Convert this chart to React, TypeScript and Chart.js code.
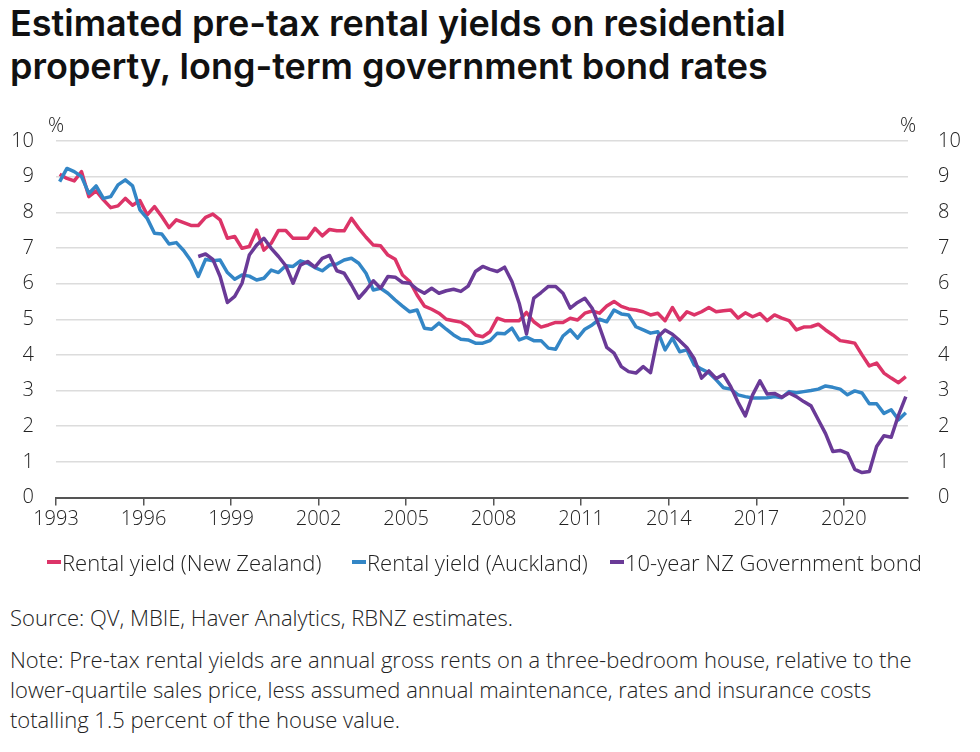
import React, { useEffect, useRef } from "react";
import { Chart, registerables } from "chart.js";

Chart.register(...registerables);

// Quarterly data, first quarter = 1993 Q1, last = 2022 Q1
const START_YEAR = 1993;

const nzRentalYield = [
  9.07, 8.95, 8.88, 9.14, 8.44, 8.6, 8.35, 8.13, 8.18, 8.39,
  8.2, 8.33, 7.93, 8.16, 7.88, 7.57, 7.79, 7.71, 7.63, 7.63,
  7.86, 7.95, 7.79, 7.27, 7.32, 6.99, 7.04, 7.5, 6.94, 7.13,
  7.49, 7.49, 7.27, 7.27, 7.27, 7.55, 7.34, 7.52, 7.48, 7.48,
  7.83, 7.55, 7.3, 7.08, 7.06, 6.8, 6.68, 6.24, 6.06, 5.68,
  5.37, 5.28, 5.17, 5.0, 4.96, 4.92, 4.79, 4.56, 4.51, 4.65,
  5.03, 4.96, 4.96, 4.96, 5.19, 4.93, 4.78, 4.84, 4.91, 4.91,
  5.03, 4.98, 5.17, 5.23, 5.17, 5.37, 5.5, 5.36, 5.29, 5.26,
  5.21, 5.12, 5.17, 4.96, 5.33, 4.98, 5.21, 5.12, 5.21, 5.33,
  5.21, 5.24, 5.26, 5.03, 5.18, 5.07, 5.16, 4.96, 5.12, 5.03,
  4.96, 4.7, 4.78, 4.79, 4.86, 4.7, 4.56, 4.4, 4.37, 4.33,
  4.0, 3.69, 3.77, 3.49, 3.35, 3.22, 3.39,
];

const aucklandRentalYield = [
  8.86, 9.23, 9.14, 9.0, 8.53, 8.74, 8.39, 8.44, 8.77, 8.91,
  8.74, 8.07, 7.83, 7.41, 7.39, 7.11, 7.15, 6.93, 6.64, 6.2,
  6.68, 6.64, 6.66, 6.31, 6.12, 6.24, 6.21, 6.1, 6.15, 6.38,
  6.31, 6.5, 6.48, 6.64, 6.57, 6.45, 6.36, 6.52, 6.55, 6.66,
  6.71, 6.57, 6.29, 5.82, 5.87, 5.73, 5.54, 5.37, 5.21, 5.26,
  4.75, 4.72, 4.89, 4.72, 4.56, 4.44, 4.42, 4.33, 4.33, 4.4,
  4.61, 4.59, 4.75, 4.42, 4.5, 4.4, 4.4, 4.19, 4.16, 4.53,
  4.7, 4.47, 4.72, 4.84, 5.0, 4.93, 5.26, 5.15, 5.12, 4.79,
  4.7, 4.61, 4.65, 4.14, 4.47, 4.09, 4.14, 3.72, 3.6, 3.5,
  3.3, 3.08, 3.04, 2.88, 2.83, 2.79, 2.79, 2.8, 2.83, 2.8,
  2.97, 2.94, 2.97, 3.0, 3.04, 3.13, 3.09, 3.04, 2.88, 2.99,
  2.93, 2.63, 2.63, 2.36, 2.46, 2.18, 2.38,
];

// 10-year government bond starts in 1997 Q4 (quarter index 19)
const BOND_START_INDEX = 19;
const nzGovBond10y = [
  6.76, 6.83, 6.68, 6.2, 5.47, 5.64, 6.01, 6.8, 7.08, 7.27,
  6.99, 6.76, 6.5, 6.01, 6.52, 6.62, 6.46, 6.71, 6.79, 6.36,
  6.29, 5.96, 5.59, 5.82, 6.08, 5.87, 6.2, 6.18, 6.03, 6.01,
  5.84, 5.73, 5.87, 5.73, 5.8, 5.84, 5.78, 5.93, 6.34, 6.48,
  6.4, 6.34, 6.46, 6.06, 5.45, 4.59, 5.59, 5.75, 5.92, 5.92,
  5.73, 5.31, 5.47, 5.59, 5.31, 4.79, 4.21, 4.05, 3.67, 3.53,
  3.49, 3.67, 3.5, 4.5, 4.7, 4.58, 4.4, 4.2, 3.89, 3.35,
  3.55, 3.34, 3.45, 3.11, 2.67, 2.29, 2.88, 3.27, 2.9, 2.92,
  2.81, 2.93, 2.83, 2.69, 2.57, 2.18, 1.79, 1.29, 1.32, 1.24,
  0.79, 0.7, 0.73, 1.43, 1.73, 1.69, 2.31, 2.83,
];

const xTickYears = [1993, 1996, 1999, 2002, 2005, 2008, 2011, 2014, 2017, 2020];
const yTickValues = [0, 1, 2, 3, 4, 5, 6, 7, 8, 9, 10];

const seriesLabels = [
  "Rental yield (New Zealand)",
  "Rental yield (Auckland)",
  "10-year NZ Government bond",
];
const seriesColors = ["#dc3468", "#3386c6", "#6a3a97"];

const quarterYear = (i: number) => START_YEAR + (i + 0.5) / 4;
const toPoints = (vals: number[], offset = 0) =>
  vals.map((v, i) => ({ x: quarterYear(i + offset), y: v }));

const FONT = '"Open Sans", "DejaVu Sans", sans-serif';
const TEXT_COLOR = "#222";

const percentPlugin = {
  id: "percentLabels",
  afterDraw(chart: any) {
    const { ctx, chartArea } = chart;
    ctx.save();
    ctx.font = `300 20px ${FONT}`;
    ctx.fillStyle = TEXT_COLOR;
    ctx.textAlign = "center";
    ctx.textBaseline = "middle";
    ctx.fillText("%", chartArea.left, chartArea.top - 15);
    ctx.fillText("%", chartArea.right, chartArea.top - 15);
    ctx.restore();
  },
};

function LineChart() {
  const ref = useRef<HTMLCanvasElement | null>(null);
  useEffect(() => {
    if (!ref.current) return;
    const tickFont = { family: FONT, size: 20, weight: "300" };
    const chart = new Chart(ref.current, {
      type: "line",
      data: {
        datasets: [
          {
            label: seriesLabels[0],
            data: toPoints(nzRentalYield),
            borderColor: seriesColors[0],
            order: 2,
          },
          {
            label: seriesLabels[1],
            data: toPoints(aucklandRentalYield),
            borderColor: seriesColors[1],
            order: 1,
          },
          {
            label: seriesLabels[2],
            data: toPoints(nzGovBond10y, BOND_START_INDEX),
            borderColor: seriesColors[2],
            order: 0,
          },
        ],
      },
      options: {
        responsive: false,
        animation: false,
        devicePixelRatio: 1,
        layout: { padding: { top: 41, left: 0, right: 0, bottom: 0 } },
        plugins: { legend: { display: false }, tooltip: { enabled: false } },
        elements: {
          point: { radius: 0 },
          line: {
            borderWidth: 3.5,
            tension: 0,
            borderJoinStyle: "round",
            fill: false,
          },
        },
        scales: {
          x: {
            type: "linear",
            min: 1993,
            max: 2022.2,
            afterBuildTicks: (s: any) => {
              s.ticks = xTickYears.map((v) => ({ value: v }));
            },
            afterFit: (s: any) => {
              s.height = 52.5;
            },
            ticks: {
              callback: (v: any) => String(v),
              font: tickFont,
              color: TEXT_COLOR,
              padding: 2,
              autoSkip: false,
              maxRotation: 0,
            },
            grid: {
              drawOnChartArea: false,
              drawTicks: true,
              tickLength: 8,
              color: "#555",
              lineWidth: 1.5,
            },
            border: { color: "#555", width: 2 },
          },
          y: {
            position: "left",
            min: 0,
            max: 10,
            afterBuildTicks: (s: any) => {
              s.ticks = yTickValues.map((v) => ({ value: v }));
            },
            afterFit: (s: any) => {
              s.width = 56;
            },
            ticks: { font: tickFont, color: TEXT_COLOR, padding: 22 },
            grid: { color: "#dcdcdc", lineWidth: 1.5, drawTicks: false },
            border: { display: false },
          },
          y2: {
            position: "right",
            min: 0,
            max: 10,
            afterBuildTicks: (s: any) => {
              s.ticks = yTickValues.map((v) => ({ value: v }));
            },
            afterFit: (s: any) => {
              s.width = 72;
            },
            ticks: { font: tickFont, color: TEXT_COLOR, padding: 22 },
            grid: { display: false },
            border: { display: false },
          },
        },
      },
      plugins: [percentPlugin],
    });
    return () => chart.destroy();
  }, []);
  return <canvas ref={ref} width={980} height={450} style={{ display: "block" }} />;
}

const legendItemLeft = [47, 352, 610];

export default function App() {
  const textStyle: React.CSSProperties = {
    fontFamily: FONT,
    fontSize: 22,
    fontWeight: 300,
    color: TEXT_COLOR,
    lineHeight: "30px",
    whiteSpace: "nowrap",
  };
  return (
    <div
      style={{
        position: "absolute",
        left: 0,
        top: 0,
        width: 980,
        height: 752,
        background: "#fff",
        overflow: "hidden",
      }}
    >
      <div
        style={{
          position: "absolute",
          left: 10,
          top: 2,
          fontFamily: 'Inter, "Open Sans", sans-serif',
          fontWeight: 600,
          fontSize: 36,
          lineHeight: "43px",
          color: "#111",
          whiteSpace: "nowrap",
        }}
      >
        Estimated pre-tax rental yields on residential
        <br />
        property, long-term government bond rates
      </div>
      <div style={{ position: "absolute", left: 0, top: 100 }}>
        <LineChart />
      </div>
      {seriesLabels.map((l, i) => (
        <div
          key={l}
          style={{
            position: "absolute",
            left: legendItemLeft[i],
            top: 547,
            display: "flex",
            alignItems: "center",
            ...textStyle,
          }}
        >
          <span
            style={{
              display: "inline-block",
              width: 14,
              height: 4,
              background: seriesColors[i],
              marginRight: 1,
            }}
          />
          <span>{l}</span>
        </div>
      ))}
      <div style={{ position: "absolute", left: 10, top: 602, ...textStyle }}>
        Source: QV, MBIE, Haver Analytics, RBNZ estimates.
      </div>
      <div style={{ position: "absolute", left: 10, top: 644, ...textStyle }}>
        Note: Pre-tax rental yields are annual gross rents on a three-bedroom house, relative to the
        <br />
        lower-quartile sales price, less assumed annual maintenance, rates and insurance costs
        <br />
        totalling 1.5 percent of the house value.
      </div>
    </div>
  );
}
